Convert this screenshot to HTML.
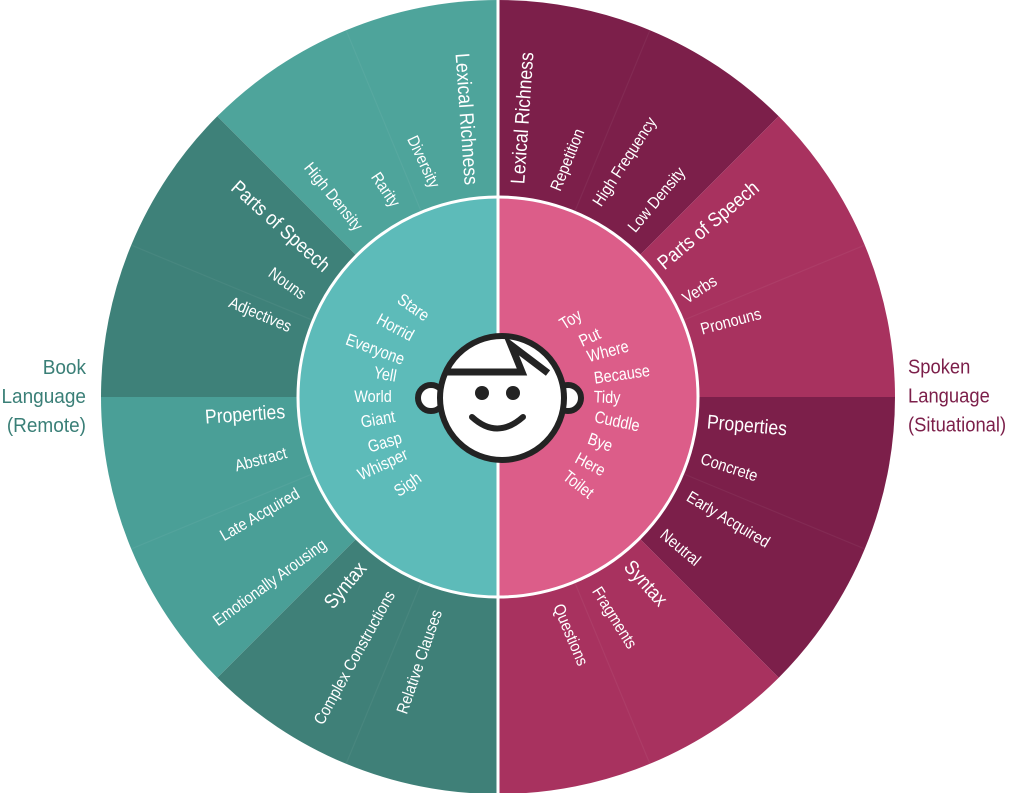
<!DOCTYPE html>
<html><head><meta charset="utf-8"><style>
html,body{margin:0;padding:0;background:#fff;width:1012px;height:793px;overflow:hidden}
svg{display:block}
text{font-family:"Liberation Sans",sans-serif;fill:#fff;text-anchor:middle;dominant-baseline:central}
.c{font-size:20px}.s{font-size:16.5px}.w{font-size:17px}
.lab{font-size:20px}
</style></head><body>
<svg width="1012" height="793" viewBox="0 0 1012 793">
<path d="M498,397 L498,0 A397,397 0 0 0 217.3,116.3 Z" fill="#4ea49b"/>
<path d="M498,397 L217.3,116.3 A397,397 0 0 0 101,397 Z" fill="#3e8179"/>
<path d="M498,397 L101,397 A397,397 0 0 0 217.3,677.7 Z" fill="#4a9f97"/>
<path d="M498,397 L217.3,677.7 A397,397 0 0 0 498,794 Z" fill="#3f8078"/>
<path d="M498,397 L498,0 A397,397 0 0 1 778.7,116.3 Z" fill="#7c1f4a"/>
<path d="M498,397 L778.7,116.3 A397,397 0 0 1 895,397 Z" fill="#a8325f"/>
<path d="M498,397 L895,397 A397,397 0 0 1 778.7,677.7 Z" fill="#7c1f4a"/>
<path d="M498,397 L778.7,677.7 A397,397 0 0 1 498,794 Z" fill="#a8325f"/>
<g stroke="rgba(255,255,255,0.05)" stroke-width="1.2">
<line x1="498" y1="397" x2="346.1" y2="30.2"/><line x1="498" y1="397" x2="131.2" y2="245.1"/>
<line x1="498" y1="397" x2="131.2" y2="548.9"/><line x1="498" y1="397" x2="346.1" y2="763.8"/>
<line x1="498" y1="397" x2="649.9" y2="30.2"/><line x1="498" y1="397" x2="864.8" y2="245.1"/>
<line x1="498" y1="397" x2="864.8" y2="548.9"/><line x1="498" y1="397" x2="649.9" y2="763.8"/>
</g>
<path d="M498,197 A200,200 0 0 0 498,597 Z" fill="#5dbbb9"/>
<path d="M498,197 A200,200 0 0 1 498,597 Z" fill="#dc5d89"/>
<circle cx="498" cy="397" r="200" fill="none" stroke="#fff" stroke-width="3"/>
<line x1="498" y1="0" x2="498" y2="793" stroke="#fff" stroke-width="3"/>

<text class="c" transform="translate(467,119) rotate(86) scale(0.88,1)">Lexical Richness</text>
<text class="s" transform="translate(423,162) rotate(65) scale(0.88,1)">Diversity</text>
<text class="s" transform="translate(385,190) rotate(56) scale(0.88,1)">Rarity</text>
<text class="s" transform="translate(333,197) rotate(51) scale(0.88,1)">High Density</text>
<text class="c" transform="translate(281,226) rotate(42) scale(0.88,1)">Parts of Speech</text>
<text class="s" transform="translate(287,284) rotate(36) scale(0.88,1)">Nouns</text>
<text class="s" transform="translate(260,315) rotate(23) scale(0.88,1)">Adjectives</text>
<text class="c" transform="translate(245,414) rotate(-4) scale(0.88,1)">Properties</text>
<text class="s" transform="translate(261,460) rotate(-15) scale(0.88,1)">Abstract</text>
<text class="s" transform="translate(260,515) rotate(-30) scale(0.88,1)">Late Acquired</text>
<text class="s" transform="translate(270,583) rotate(-36) scale(0.88,1)">Emotionally Arousing</text>
<text class="c" transform="translate(345,585) rotate(-50) scale(0.88,1)">Syntax</text>
<text class="s" transform="translate(355,658) rotate(-61) scale(0.88,1)">Complex Constructions</text>
<text class="s" transform="translate(420,662) rotate(-71) scale(0.88,1)">Relative Clauses</text>

<text class="c" transform="translate(522,118) rotate(-86) scale(0.88,1)">Lexical Richness</text>
<text class="s" transform="translate(568,160) rotate(-68) scale(0.88,1)">Repetition</text>
<text class="s" transform="translate(625,162) rotate(-57) scale(0.88,1)">High Frequency</text>
<text class="s" transform="translate(657,200) rotate(-50) scale(0.88,1)">Low Density</text>
<text class="c" transform="translate(708,225) rotate(-40) scale(0.88,1)">Parts of Speech</text>
<text class="s" transform="translate(700,290) rotate(-33) scale(0.88,1)">Verbs</text>
<text class="s" transform="translate(731,322) rotate(-15) scale(0.88,1)">Pronouns</text>
<text class="c" transform="translate(747,425) rotate(5) scale(0.88,1)">Properties</text>
<text class="s" transform="translate(729,468) rotate(18) scale(0.88,1)">Concrete</text>
<text class="s" transform="translate(728,520) rotate(31) scale(0.88,1)">Early Acquired</text>
<text class="s" transform="translate(680,548) rotate(40) scale(0.88,1)">Neutral</text>
<text class="c" transform="translate(646,583) rotate(48) scale(0.88,1)">Syntax</text>
<text class="s" transform="translate(614,618) rotate(58) scale(0.88,1)">Fragments</text>
<text class="s" transform="translate(570,635) rotate(67) scale(0.88,1)">Questions</text>

<text class="w" transform="translate(413,308) rotate(35) scale(0.85,1)">Stare</text>
<text class="w" transform="translate(395,328) rotate(28) scale(0.85,1)">Horrid</text>
<text class="w" transform="translate(375,350) rotate(20) scale(0.85,1)">Everyone</text>
<text class="w" transform="translate(385,375) rotate(10) scale(0.85,1)">Yell</text>
<text class="w" transform="translate(373,397) rotate(0) scale(0.85,1)">World</text>
<text class="w" transform="translate(378,420) rotate(-10) scale(0.85,1)">Giant</text>
<text class="w" transform="translate(385,443) rotate(-17) scale(0.85,1)">Gasp</text>
<text class="w" transform="translate(383,465) rotate(-25) scale(0.85,1)">Whisper</text>
<text class="w" transform="translate(408,485) rotate(-35) scale(0.85,1)">Sigh</text>
<text class="w" transform="translate(571,320) rotate(-32) scale(0.85,1)">Toy</text>
<text class="w" transform="translate(590,338) rotate(-25) scale(0.85,1)">Put</text>
<text class="w" transform="translate(608,352) rotate(-15) scale(0.85,1)">Where</text>
<text class="w" transform="translate(622,375) rotate(-8) scale(0.85,1)">Because</text>
<text class="w" transform="translate(607,398) rotate(2) scale(0.85,1)">Tidy</text>
<text class="w" transform="translate(617,422) rotate(12) scale(0.85,1)">Cuddle</text>
<text class="w" transform="translate(600,443) rotate(20) scale(0.85,1)">Bye</text>
<text class="w" transform="translate(590,465) rotate(28) scale(0.85,1)">Here</text>
<text class="w" transform="translate(578,485) rotate(38) scale(0.85,1)">Toilet</text>

<g stroke="#232323" stroke-width="6" fill="#fff">
<circle cx="431" cy="398" r="13"/>
<circle cx="568" cy="398" r="13"/>
<circle cx="502" cy="398" r="62"/>
</g>
<path d="M444,372 L522,372 L511,345 L548,373" fill="none" stroke="#232323" stroke-width="7"/>
<circle cx="482" cy="393" r="7" fill="#232323"/>
<circle cx="513" cy="393" r="7" fill="#232323"/>
<path d="M472,417 Q497,440 523,417" fill="none" stroke="#232323" stroke-width="6" stroke-linecap="round"/>

<text class="lab" transform="translate(86,368) scale(0.95,1)" style="fill:#3a7f77;text-anchor:end">Book</text>
<text class="lab" transform="translate(86,397) scale(0.95,1)" style="fill:#3a7f77;text-anchor:end">Language</text>
<text class="lab" transform="translate(86,426) scale(0.95,1)" style="fill:#3a7f77;text-anchor:end">(Remote)</text>
<text class="lab" transform="translate(908,368) scale(0.92,1)" style="fill:#7c1f4a;text-anchor:start">Spoken</text>
<text class="lab" transform="translate(908,397) scale(0.92,1)" style="fill:#7c1f4a;text-anchor:start">Language</text>
<text class="lab" transform="translate(908,426) scale(0.92,1)" style="fill:#7c1f4a;text-anchor:start">(Situational)</text>
</svg>
</body></html>
